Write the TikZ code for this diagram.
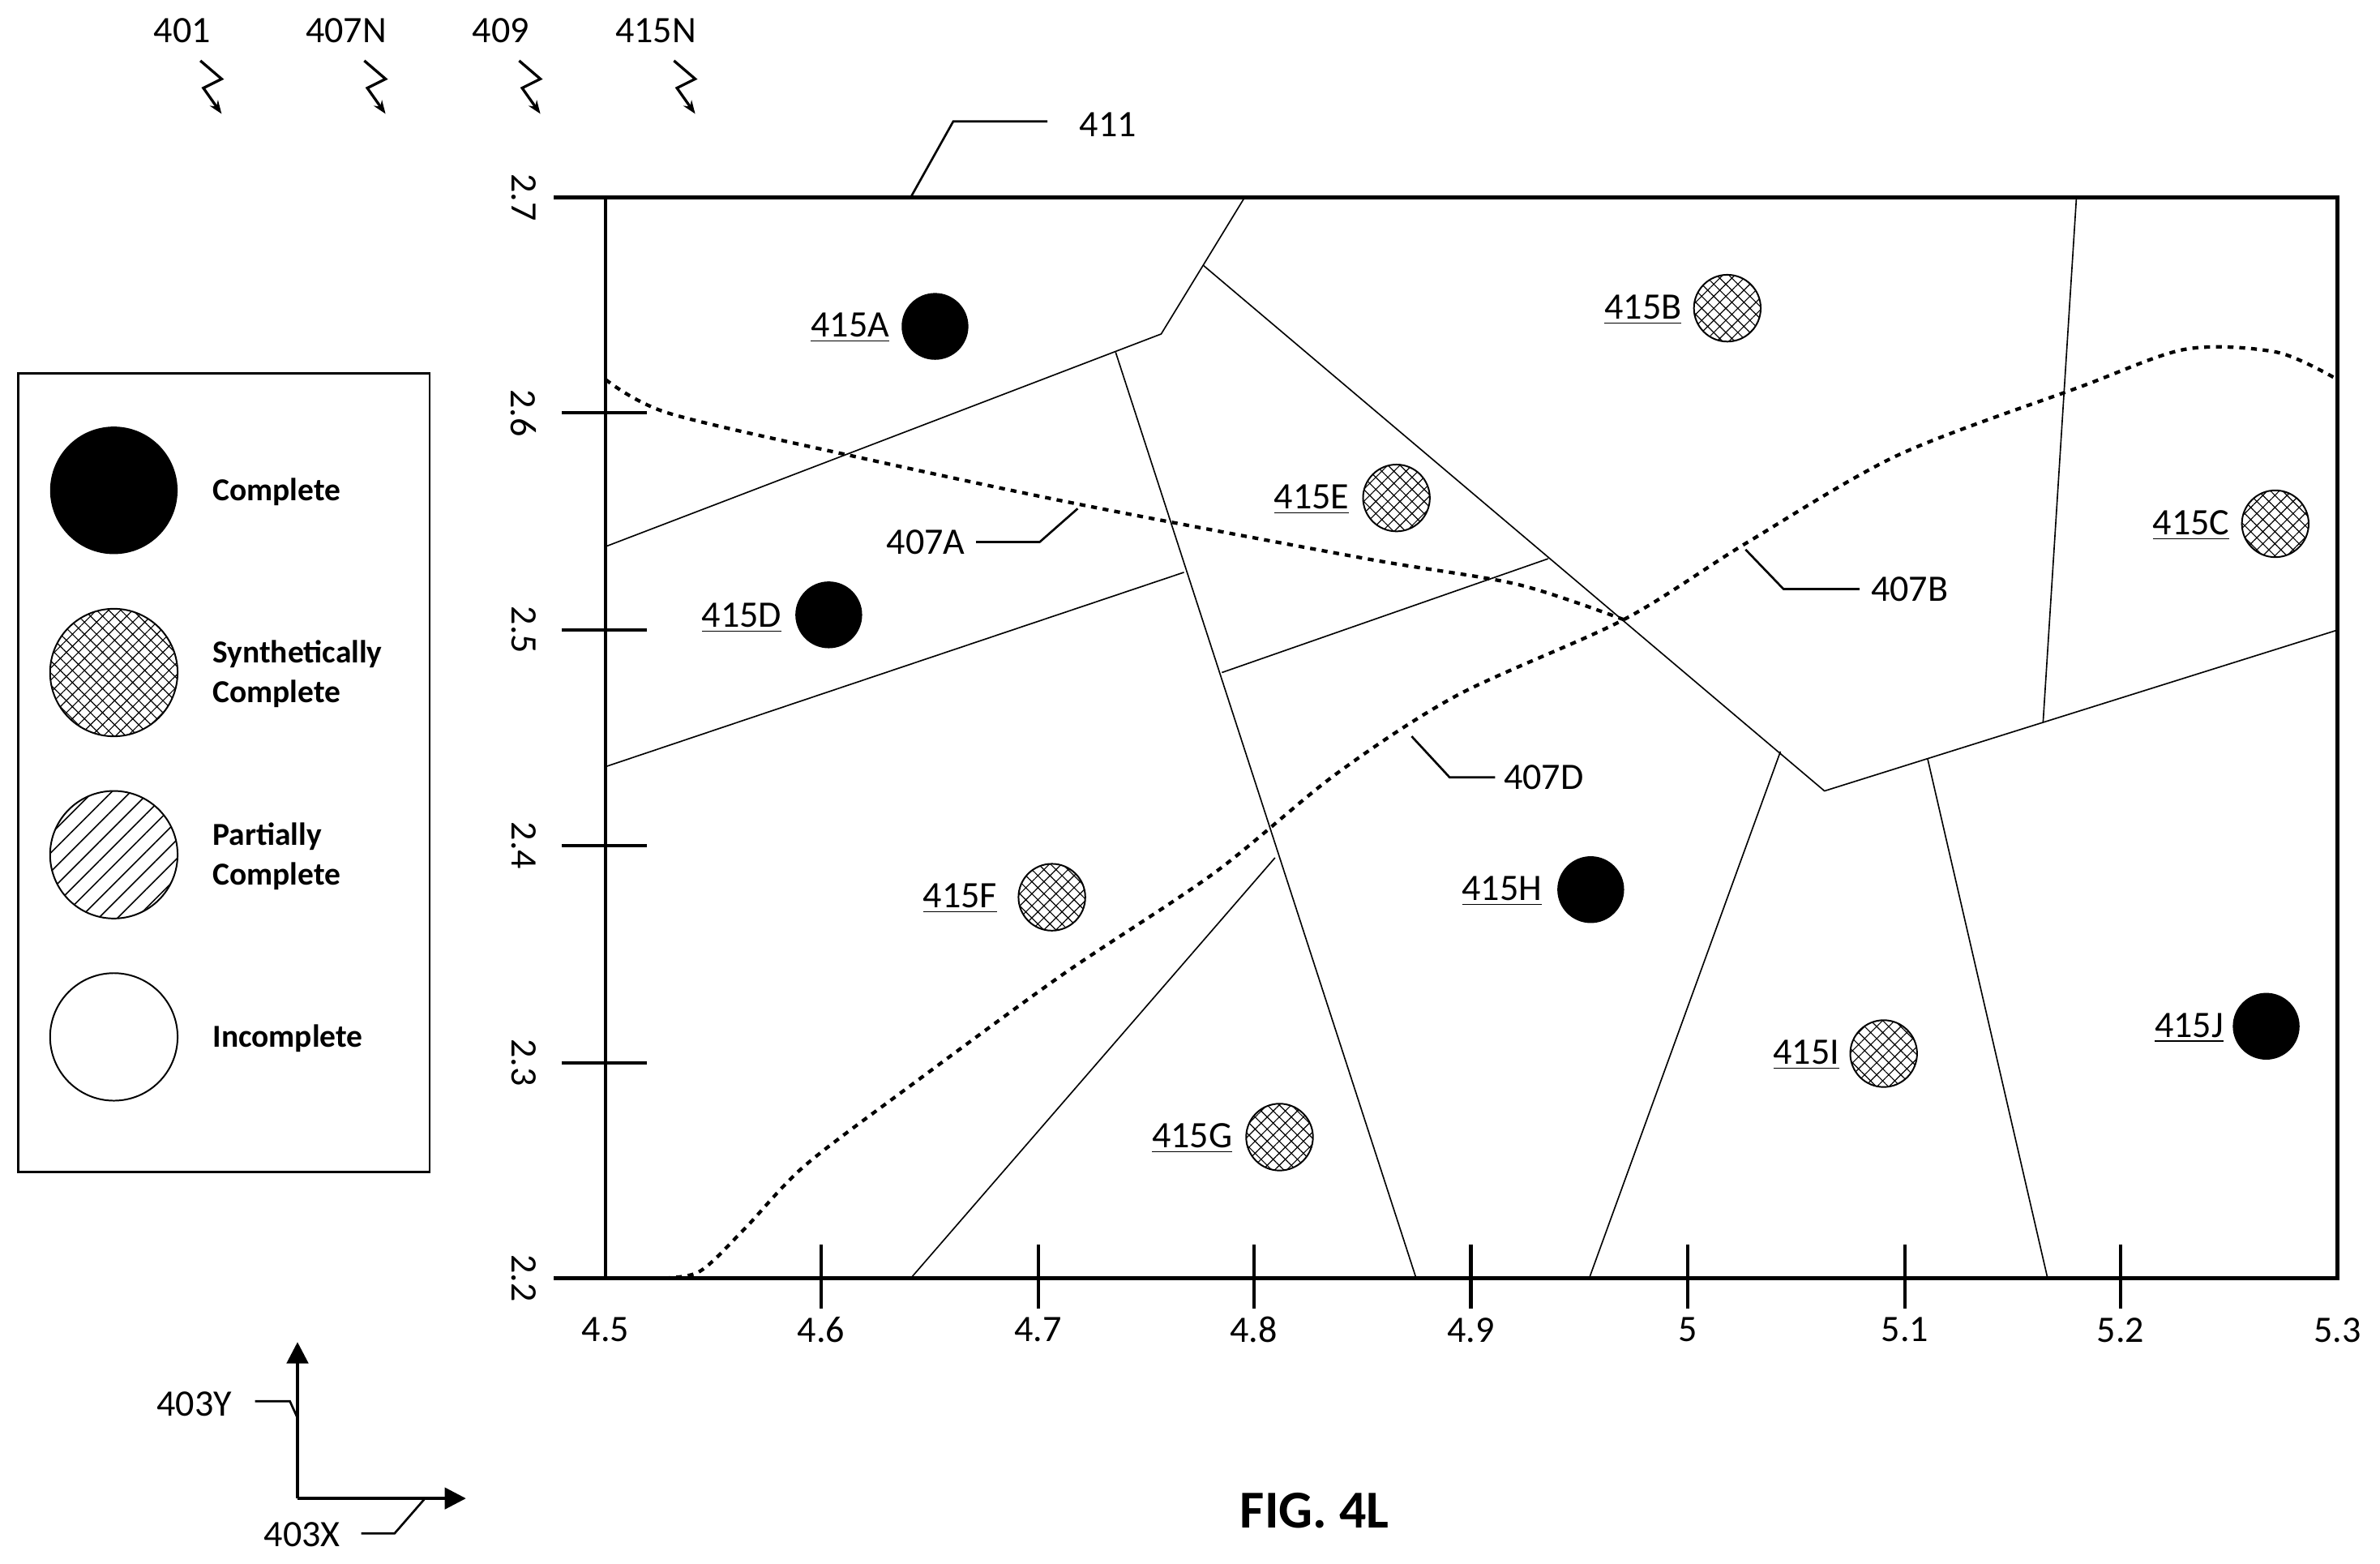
\documentclass[tikz,border=0pt]{standalone}
\usepackage{fontspec}
\setmainfont{Carlito}
\usetikzlibrary{patterns.meta,arrows.meta}
\begin{document}
\begin{tikzpicture}[x=0.02cm,y=-0.02cm,font=\fontsize{14}{16}\selectfont,
 ln/.style={line width=0.5pt},
 ax/.style={line width=1.3pt},
 dsh/.style={line width=1.3pt,dash pattern=on 2.2pt off 2.2pt},
 blk/.style={circle,fill=black,minimum size=44*0.02cm,inner sep=0},
 syn/.style={circle,draw,line width=0.6pt,pattern={Hatch[angle=45,distance=3.2pt,line width=0.35pt]},minimum size=44*0.02cm,inner sep=0},
 lab/.style={anchor=east,inner sep=1pt},
 lead/.style={line width=0.8pt}]
\useasboundingbox (0,0) rectangle (1568,1030);
% frame
\draw[ax] (365,130) -- (1540,130) -- (1540,842) -- (365,842);
\draw[ax] (399,130) -- (399,842);
\foreach \y in {272,415,557,700} \draw[ax] (370,\y) -- (426,\y);
\foreach \x in {541,684,826,969,1112,1255,1397} \draw[ax] (\x,820) -- (\x,862);
\foreach \y/\t in {130/2.7,272/2.6,415/2.5,557/2.4,700/2.3,842/2.2} \node[rotate=-90] (yl\t) at (345,\y) {\t};
\foreach \x/\t in {399/4.5,541/4.6,684/4.7,826/4.8,969/4.9,1112/5,1255/5.1,1397/5.2,1540/5.3} \node (xl\t) at (\x,876) {\t};
% cells
\draw[ln] (820,130) -- (765,220) -- (399,360);
\draw[ln] (793,175) -- (1202,521) -- (1540,415);
\draw[ln] (735,232) -- (933,842);
\draw[ln] (399,505) -- (780,377);
\draw[ln] (805,443) -- (1020,368);
\draw[ln] (600,842) -- (840,565);
\draw[ln] (1047,842) -- (1173,495);
\draw[ln] (1346,476) -- (1368,130);
\draw[ln] (1270,500) -- (1349,842);
% dashed
\draw[dsh] plot[smooth] coordinates {(399,250) (440,272) (560,300) (710,332) (900,368) (1000,385) (1072,409)};
\draw[dsh] plot[smooth] coordinates {(430,842) (460,838) (490,810) (530,768) (600,715) (700,642) (800,575) (880,510) (960,458) (1070,408) (1150,358) (1250,300) (1370,255) (1440,230) (1500,232) (1540,250)};
% dots
\node[blk] (a) at (616,215) {}; \node[lab] at (588,216) {\underline{415A}};
\node[syn] (b) at (1138,203) {}; \node[lab] at (1110,204) {\underline{415B}};
\node[syn] (c) at (1499,345) {}; \node[lab] at (1471,346) {\underline{415C}};
\node[blk] (d) at (546,405) {}; \node[lab] at (517,407) {\underline{415D}};
\node[syn] (e) at (920,328) {}; \node[lab] at (891,329) {\underline{415E}};
\node[syn] (f) at (693,591) {}; \node[lab] at (659,592) {\underline{415F}};
\node[syn] (g) at (843,749) {}; \node[lab] at (814,750) {\underline{415G}};
\node[blk] (h) at (1048,586) {}; \node[lab] at (1018,587) {\underline{415H}};
\node[syn] (i) at (1241,694) {}; \node[lab] at (1214,695) {\underline{415I}};
\node[blk] (j) at (1493,676) {}; \node[lab] at (1467,677) {\underline{415J}};
% leaders
\node (t411) at (730,82) {411};
\draw[lead] (600,130) -- (628,80) -- (690,80);
\node (t407a) at (610,357) {407A};
\draw[lead] (643,357) -- (685,357) -- (710,335);
\node (t407b) at (1258,388) {407B};
\draw[lead] (1225,388) -- (1175,388) -- (1150,362);
\node (t407d) at (1017,512) {407D};
\draw[lead] (985,512) -- (955,512) -- (930,485);
% legend
\draw[line width=0.8pt] (12,246) rectangle (283,772);
\node[circle,fill=black,minimum size=84*0.02cm] (l1) at (75,323) {};
\node[circle,draw,line width=0.6pt,pattern={Hatch[angle=45,distance=3.2pt,line width=0.35pt]},minimum size=84*0.02cm] (l2) at (75,443) {};
\node[circle,draw,line width=0.6pt,pattern={Lines[angle=45,distance=5pt,line width=0.5pt]},minimum size=84*0.02cm] (l3) at (75,563) {};
\node[circle,draw,line width=0.6pt,minimum size=84*0.02cm] (l4) at (75,683) {};
\begin{scope}[font=\fontsize{12}{15}\selectfont\bfseries]
\node[anchor=west] at (134,324) {Complete};
\node[anchor=west,align=left] at (134,444) {Synthetically\\Complete};
\node[anchor=west,align=left] at (134,564) {Partially\\Complete};
\node[anchor=west] at (134,684) {Incomplete};
\end{scope}
% top refs
\foreach \x/\t in {120/401,228/407N,330/409,432/415N} {
 \node at (\x,20) {\t};
 \draw[line width=1pt,-{Stealth[length=5pt]}] (\x+12,40) -- (\x+26,52) -- (\x+14,58) -- (\x+26,75);
}
% axes
\coordinate (o) at (196,987);
\draw[line width=1.2pt,-{Triangle[length=8pt,width=8pt]}] (o) -- (196,884);
\draw[line width=1.2pt,-{Triangle[length=8pt,width=8pt]}] (o) -- (307,987);
\node (t403y) at (128,925) {403Y};
\draw[lead] (168,923) -- (191,923) -- (196,934);
\node (t403x) at (199,1011) {403X};
\draw[lead] (238,1010) -- (260,1010) -- (280,987);
\node[font=\fontsize{20}{24}\selectfont\bfseries] at (866,995) {FIG. 4L};
\end{tikzpicture}
\end{document}
